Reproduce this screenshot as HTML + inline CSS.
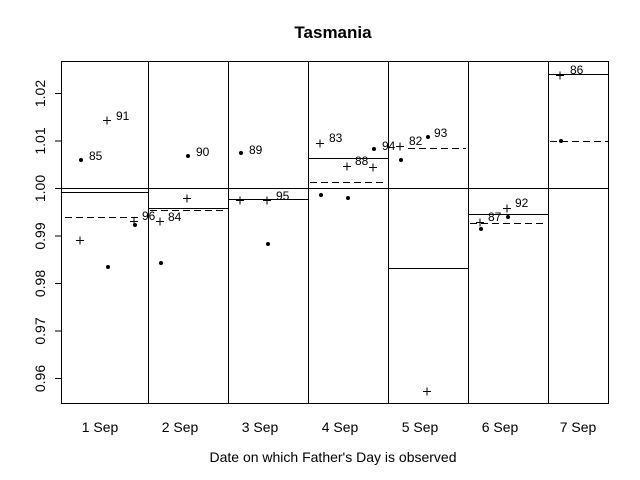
<!DOCTYPE html>
<html><head><meta charset="utf-8"><style>body{margin:0;background:#fff}svg{display:block}</style></head><body>
<svg width="640" height="480" xmlns="http://www.w3.org/2000/svg" font-family="Liberation Sans, Arial, sans-serif" font-size="14">
<rect width="640" height="480" fill="#fff"/>
<text x="333" y="38" text-anchor="middle" font-weight="bold" font-size="17">Tasmania</text>
<g stroke="#000" stroke-width="1" fill="none">
<rect x="61.5" y="61.5" width="547" height="342"/>
<line x1="148.5" y1="61" x2="148.5" y2="403"/>
<line x1="228.5" y1="61" x2="228.5" y2="403"/>
<line x1="308.5" y1="61" x2="308.5" y2="403"/>
<line x1="388.5" y1="61" x2="388.5" y2="403"/>
<line x1="468.5" y1="61" x2="468.5" y2="403"/>
<line x1="548.5" y1="61" x2="548.5" y2="403"/>
<line x1="61" y1="188.5" x2="608" y2="188.5"/>
<line x1="55" y1="93.5" x2="61" y2="93.5"/>
<line x1="55" y1="141" x2="61" y2="141"/>
<line x1="55" y1="188.5" x2="61" y2="188.5"/>
<line x1="55" y1="236" x2="61" y2="236"/>
<line x1="55" y1="283.5" x2="61" y2="283.5"/>
<line x1="55" y1="331" x2="61" y2="331"/>
<line x1="55" y1="378.5" x2="61" y2="378.5"/>
<line x1="62" y1="192.5" x2="148" y2="192.5"/>
<line x1="148" y1="208.5" x2="228" y2="208.5"/>
<line x1="228" y1="199.5" x2="308" y2="199.5"/>
<line x1="308" y1="158.5" x2="388" y2="158.5"/>
<line x1="388" y1="268.5" x2="468" y2="268.5"/>
<line x1="468" y1="214.5" x2="548" y2="214.5"/>
<line x1="548" y1="74.5" x2="608" y2="74.5"/>
<g stroke-dasharray="7,4">
<line x1="65" y1="217.5" x2="140" y2="217.5"/>
<line x1="150" y1="210.5" x2="226" y2="210.5"/>
<line x1="310" y1="182.5" x2="386" y2="182.5"/>
<line x1="408" y1="148.5" x2="466" y2="148.5"/>
<line x1="470" y1="223.5" x2="546" y2="223.5"/>
<line x1="550" y1="141.5" x2="608" y2="141.5"/>
</g>
<g>
<path d="M103,120.5h8M107,116.5v8"/>
<path d="M76,240.5h8M80,236.5v8"/>
<path d="M130,221.5h8M134,217.5v8"/>
<path d="M183,198.5h8M187,194.5v8"/>
<path d="M156,221.5h8M160,217.5v8"/>
<path d="M236,200.5h8M240,196.5v8"/>
<path d="M263,200.5h8M267,196.5v8"/>
<path d="M316,143.5h8M320,139.5v8"/>
<path d="M343,166.5h8M347,162.5v8"/>
<path d="M369,167.5h8M373,163.5v8"/>
<path d="M396,146.5h8M400,142.5v8"/>
<path d="M423,391.5h8M427,387.5v8"/>
<path d="M503,208.5h8M507,204.5v8"/>
<path d="M476,222.5h8M480,218.5v8"/>
<path d="M556,75.5h8M560,71.5v8"/>
</g>
</g>
<g fill="#000">
<circle cx="81" cy="160" r="2"/><circle cx="135" cy="225" r="2"/><circle cx="108" cy="267" r="2"/>
<circle cx="188" cy="156" r="2"/><circle cx="161" cy="263" r="2"/>
<circle cx="241" cy="153" r="2"/><circle cx="268" cy="244" r="2"/>
<circle cx="374" cy="149" r="2"/><circle cx="321" cy="195" r="2"/><circle cx="348" cy="198" r="2"/>
<circle cx="428" cy="137" r="2"/><circle cx="401" cy="160" r="2"/>
<circle cx="481" cy="229" r="2"/><circle cx="508" cy="217" r="2"/>
<circle cx="561" cy="141" r="2"/>
</g>
<g font-size="12">
<text x="89" y="160">85</text><text x="116" y="120">91</text><text x="142" y="220">96</text>
<text x="196" y="156">90</text><text x="168" y="221">84</text>
<text x="249" y="154">89</text><text x="276" y="200">95</text>
<text x="329" y="142">83</text><text x="382" y="150">94</text><text x="355" y="165">88</text>
<text x="409" y="145">82</text><text x="434" y="137">93</text>
<text x="515" y="207">92</text><text x="488" y="221">87</text>
<text x="570" y="74">86</text>
</g>
<g text-anchor="middle">
<text transform="translate(45,93.5) rotate(-90)">1.02</text>
<text transform="translate(45,141) rotate(-90)">1.01</text>
<text transform="translate(45,188.5) rotate(-90)">1.00</text>
<text transform="translate(45,236) rotate(-90)">0.99</text>
<text transform="translate(45,283.5) rotate(-90)">0.98</text>
<text transform="translate(45,331) rotate(-90)">0.97</text>
<text transform="translate(45,378.5) rotate(-90)">0.96</text>
<text x="100" y="432">1 Sep</text>
<text x="180" y="432">2 Sep</text>
<text x="260" y="432">3 Sep</text>
<text x="340" y="432">4 Sep</text>
<text x="420" y="432">5 Sep</text>
<text x="500" y="432">6 Sep</text>
<text x="578" y="432">7 Sep</text>
<text x="333" y="462">Date on which Father's Day is observed</text>
</g>
</svg>
</body></html>
